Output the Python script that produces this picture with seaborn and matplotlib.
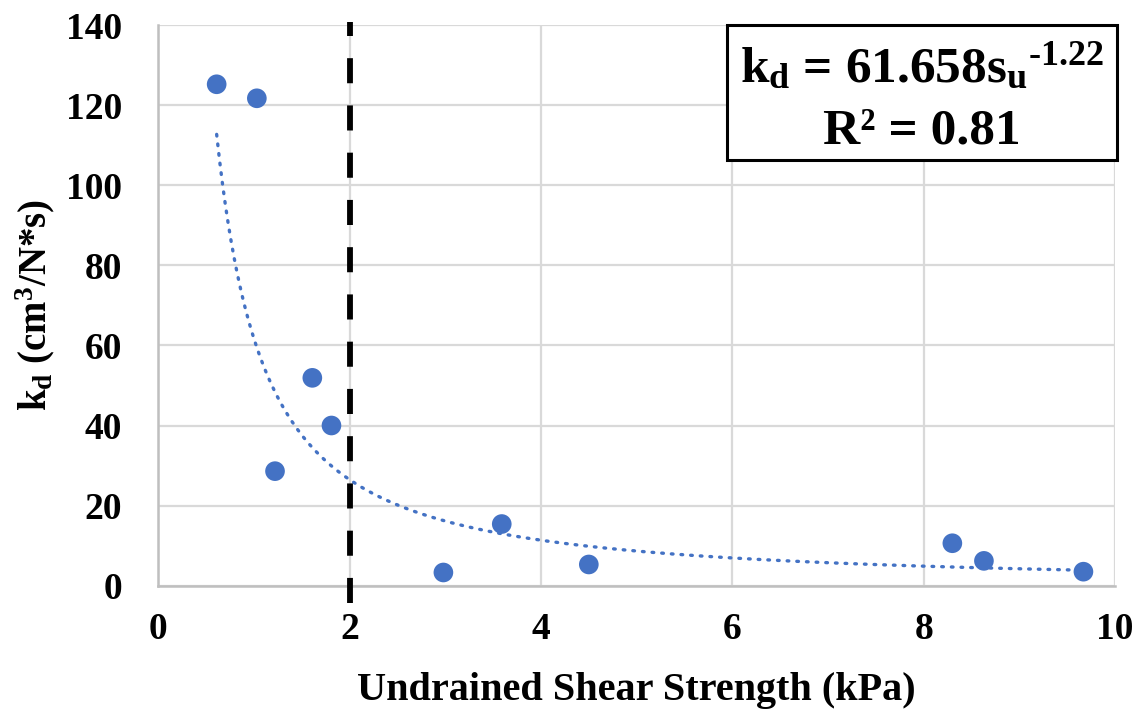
import numpy as np
import pandas as pd
import matplotlib
matplotlib.use("Agg")
import matplotlib.pyplot as plt
from matplotlib import font_manager as fm
from matplotlib.patches import Rectangle
import seaborn as sns

# Data
shear_strength = [0.61, 1.03, 1.22, 1.61, 1.81, 2.98, 3.59, 4.50, 8.30, 8.63, 9.67]
kd_values = [125.2, 121.7, 28.6, 51.9, 40.0, 3.3, 15.4, 5.3, 10.6, 6.2, 3.5]
fit_coef = 61.658
fit_exp = -1.22
r_squared = 0.81
x_ticks = [0, 2, 4, 6, 8, 10]
y_ticks = [0, 20, 40, 60, 80, 100, 120, 140]
threshold_x = 2

sns.set_theme(style="white")


def find_font(name, weight=700):
    for f in fm.fontManager.ttflist:
        if f.name == name and f.weight == weight and f.style == "normal":
            return f.fname
    return None


serif_name = "Liberation Serif"
bold_path = find_font(serif_name)
if bold_path is None:
    serif_name = "FreeSerif"
    bold_path = find_font(serif_name)


def fprop(size):
    if bold_path:
        return fm.FontProperties(fname=bold_path, size=size)
    return fm.FontProperties(family="serif", weight="bold", size=size)


plt.rcParams['font.family'] = [serif_name, 'DejaVu Serif']
plt.rcParams['font.weight'] = 'bold'
plt.rcParams['mathtext.fontset'] = 'custom'
plt.rcParams['mathtext.rm'] = serif_name + ':bold'
plt.rcParams['mathtext.it'] = serif_name + ':bold'
plt.rcParams['mathtext.bf'] = serif_name + ':bold'
plt.rcParams['text.color'] = 'black'
plt.rcParams['axes.labelcolor'] = 'black'
plt.rcParams['xtick.color'] = 'black'
plt.rcParams['ytick.color'] = 'black'

df = pd.DataFrame({"su": shear_strength, "kd": kd_values})

W, H = 1138, 709
fig = plt.figure(figsize=(W / 100, H / 100), dpi=100)
ax = fig.add_axes([158.3 / W, 1 - 585.7 / H, (1115 - 158.3) / W, (585.7 - 25) / H])

blue = "#4472C4"
grid_c = "#D9D9D9"

ax.set_xlim(0, 10)
ax.set_ylim(0, 140)
ax.set_xticks(x_ticks)
ax.set_yticks(y_ticks)
ax.grid(True, color=grid_c, linewidth=1.6, zorder=0)
ax.set_axisbelow(True)

for side in ["top", "right"]:
    ax.spines[side].set_visible(False)
for side in ["left", "bottom"]:
    ax.spines[side].set_color("#BFBFBF")
    ax.spines[side].set_linewidth(1.8)

# trendline from the fitted power-law equation shown on the chart
xs = np.linspace(min(shear_strength), max(shear_strength), 300)
ax.plot(xs, fit_coef * xs ** fit_exp, color=blue, linewidth=2.4,
        linestyle=(0, (0.5, 2.4)), dash_capstyle="round", zorder=3)

sns.scatterplot(data=df, x="su", y="kd", ax=ax, color=blue, s=200,
                edgecolor="none", zorder=4, clip_on=False)

# threshold dashed line
ax.axvline(threshold_x, ymin=-0.03, ymax=1.005, color="black", linewidth=4.2,
           linestyle=(0, (4.3, 3.8)), clip_on=False, zorder=5)

ax.tick_params(axis="x", length=0, pad=19, labelcolor="black")
ax.tick_params(axis="y", length=0, pad=26, labelcolor="black")
ax.set_xticklabels([str(t) for t in x_ticks])
ax.set_yticklabels([str(t) for t in y_ticks])
for lbl in ax.get_xticklabels() + ax.get_yticklabels():
    lbl.set_fontproperties(fprop(27))
    lbl.set_color("black")

ax.set_xlabel("Undrained Shear Strength (kPa)", fontproperties=fprop(29), color="black")
ax.xaxis.label.set_va("baseline")
ax.xaxis.set_label_coords(0.5, (585.7 - 700) / 560.7)
ax.set_ylabel(r"$\mathrm{k_d}$ (cm$^\mathrm{3}$/N*s)", fontproperties=fprop(28), color="black")
ax.yaxis.label.set_va("center")
ax.yaxis.set_label_coords((35 - 158.3) / 956.7, 0.5)

# equation box
ax.add_patch(Rectangle(((727 - 158.3) / 956.7, (585.7 - 160) / 560.7),
                       (1117 - 727) / 956.7, (160 - 25) / 560.7,
                       transform=ax.transAxes, facecolor="white", edgecolor="black",
                       linewidth=2.2, clip_on=False, zorder=6))
hyphen = "\u2010"
line1 = (r"$\mathrm{k_d}$ = " + f"{fit_coef:.3f}" + r"$\mathrm{s_u{}^{" + hyphen
         + f"{abs(fit_exp):.2f}" + r"}}$")
line2 = f"R² = {r_squared:.2f}"
fig.text(922 / W, 1 - 82 / H, line1, ha="center", va="baseline",
         fontproperties=fprop(37), color="black", zorder=7)
fig.text(922 / W, 1 - 143 / H, line2, ha="center", va="baseline",
         fontproperties=fprop(37), color="black", zorder=7)

fig.savefig("out.png", dpi=100)
